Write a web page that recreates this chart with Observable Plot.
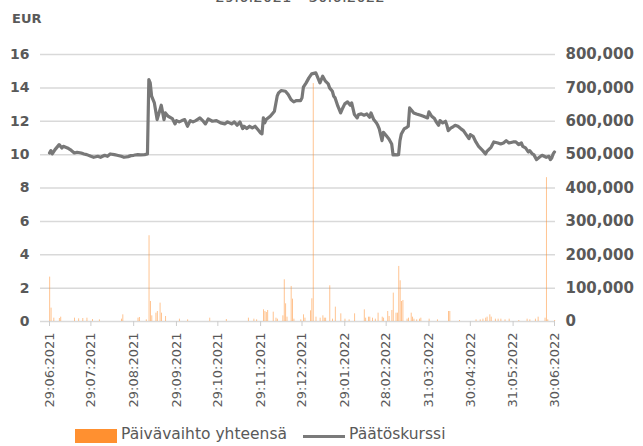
<!DOCTYPE html>
<html><head><meta charset="utf-8">
<script src="https://cdn.jsdelivr.net/npm/d3@7"></script>
<script src="https://cdn.jsdelivr.net/npm/@observablehq/plot@0.6"></script>
<style>
body{margin:0;background:#fff;}
#wrap{position:relative;width:643px;height:446px;overflow:hidden;font-family:"DejaVu Sans",sans-serif;color:#595959;}
#title{position:absolute;top:-12px;left:0;width:600px;text-align:center;font-size:15px;}
#unit{position:absolute;left:12px;top:11px;font-weight:bold;font-size:13px;}
#chart{position:absolute;left:0;top:0;}
.lg{position:absolute;font-size:15.5px;white-space:nowrap;}
</style>
</head><body>
<div id="wrap">
<div id="title">29.6.2021 – 30.6.2022</div>
<div id="unit">EUR</div>
<div id="chart"></div>
<div class="lg" style="left:75px;top:429px;width:42px;height:14px;background:#ff9030"></div>
<div class="lg" style="left:121px;top:425px;">Päivävaihto yhteensä</div>
<div class="lg" style="left:303px;top:435px;width:42px;height:3px;background:#7a7a7a"></div>
<div class="lg" style="left:349px;top:425px;">Päätöskurssi</div>
</div>
<script>
const priceDates = ["2021-06-29","2021-06-30","2021-07-01","2021-07-03","2021-07-06","2021-07-08","2021-07-09","2021-07-12","2021-07-14","2021-07-17","2021-07-19","2021-07-22","2021-07-24","2021-07-26","2021-07-29","2021-07-31","2021-08-03","2021-08-05","2021-08-08","2021-08-10","2021-08-12","2021-08-15","2021-08-17","2021-08-20","2021-08-22","2021-08-25","2021-08-27","2021-08-29","2021-09-01","2021-09-03","2021-09-06","2021-09-08","2021-09-09","2021-09-10","2021-09-11","2021-09-13","2021-09-15","2021-09-18","2021-09-20","2021-09-21","2021-09-23","2021-09-26","2021-09-28","2021-09-29","2021-10-01","2021-10-03","2021-10-05","2021-10-07","2021-10-09","2021-10-11","2021-10-13","2021-10-16","2021-10-18","2021-10-20","2021-10-22","2021-10-25","2021-10-28","2021-10-31","2021-11-03","2021-11-05","2021-11-08","2021-11-10","2021-11-12","2021-11-14","2021-11-16","2021-11-17","2021-11-19","2021-11-21","2021-11-23","2021-11-25","2021-11-27","2021-11-29","2021-11-30","2021-12-01","2021-12-02","2021-12-03","2021-12-06","2021-12-08","2021-12-09","2021-12-11","2021-12-12","2021-12-14","2021-12-17","2021-12-19","2021-12-21","2021-12-23","2021-12-25","2021-12-28","2021-12-29","2021-12-30","2022-01-01","2022-01-03","2022-01-05","2022-01-08","2022-01-09","2022-01-11","2022-01-13","2022-01-15","2022-01-17","2022-01-18","2022-01-20","2022-01-21","2022-01-22","2022-01-24","2022-01-26","2022-01-27","2022-01-29","2022-01-31","2022-02-02","2022-02-03","2022-02-05","2022-02-07","2022-02-08","2022-02-10","2022-02-12","2022-02-14","2022-02-16","2022-02-17","2022-02-19","2022-02-21","2022-02-22","2022-02-23","2022-02-25","2022-02-26","2022-02-28","2022-03-02","2022-03-04","2022-03-05","2022-03-06","2022-03-08","2022-03-09","2022-03-10","2022-03-11","2022-03-13","2022-03-15","2022-03-16","2022-03-17","2022-03-19","2022-03-20","2022-03-22","2022-03-25","2022-03-27","2022-03-30","2022-03-31","2022-04-02","2022-04-04","2022-04-05","2022-04-07","2022-04-08","2022-04-10","2022-04-12","2022-04-13","2022-04-14","2022-04-16","2022-04-17","2022-04-19","2022-04-21","2022-04-23","2022-04-25","2022-04-27","2022-04-29","2022-04-30","2022-05-02","2022-05-04","2022-05-06","2022-05-09","2022-05-11","2022-05-12","2022-05-15","2022-05-17","2022-05-20","2022-05-22","2022-05-24","2022-05-26","2022-05-28","2022-05-31","2022-06-02","2022-06-04","2022-06-06","2022-06-07","2022-06-09","2022-06-11","2022-06-12","2022-06-14","2022-06-15","2022-06-17","2022-06-19","2022-06-21","2022-06-24","2022-06-26","2022-06-27","2022-06-28","2022-06-29","2022-06-30"];
const priceValues = [10.1,10.24,10.04,10.3,10.6,10.4,10.5,10.4,10.3,10.1,10.14,10.1,10.04,10.0,9.9,9.84,9.9,9.84,9.96,9.9,10.04,10.0,9.96,9.9,9.84,9.88,9.94,9.96,10.0,9.98,10.0,10.04,14.5,14.3,13.5,13.1,12.1,12.96,12.1,12.5,12.3,12.16,11.84,12.04,11.96,12.04,12.1,11.7,12.04,11.96,12.04,12.2,12.04,11.84,12.14,12.0,12.04,11.9,11.84,11.96,11.84,11.96,11.76,11.96,11.56,11.7,11.56,11.7,11.6,11.7,11.5,11.3,11.24,12.2,11.9,12.1,12.3,12.5,12.6,13.5,13.7,13.84,13.8,13.6,13.3,13.16,13.24,13.24,13.4,14.04,14.3,14.6,14.84,14.9,14.7,14.3,14.7,14.4,14.24,14.0,13.8,13.5,13.4,12.9,12.5,12.7,13.04,13.16,12.96,13.1,12.4,12.2,12.4,12.44,12.36,12.44,12.24,12.5,12.1,11.9,11.74,11.54,10.84,11.34,11.14,10.94,10.64,9.98,10.0,9.98,10.0,10.84,11.24,11.54,11.64,11.7,12.8,12.6,12.5,12.44,12.36,12.3,12.2,12.56,12.3,12.16,12.0,11.76,12.04,11.9,12.0,11.76,11.44,11.6,11.64,11.76,11.7,11.56,11.44,11.2,10.96,11.2,11.1,10.76,10.5,10.24,10.04,10.2,10.44,10.76,10.7,10.64,10.7,10.84,10.7,10.76,10.76,10.6,10.7,10.5,10.4,10.16,10.24,10.04,10.0,9.7,9.84,9.96,9.84,9.9,9.7,9.8,10.04,10.16];

const volumeDates = ["2021-06-29","2021-06-30","2021-07-02","2021-07-06","2021-07-07","2021-07-17","2021-07-20","2021-07-23","2021-07-26","2021-07-30","2021-08-04","2021-08-20","2021-08-21","2021-09-01","2021-09-02","2021-09-07","2021-09-09","2021-09-10","2021-09-11","2021-09-14","2021-09-15","2021-09-17","2021-09-18","2021-09-21","2021-10-01","2021-10-07","2021-10-23","2021-11-04","2021-11-20","2021-11-24","2021-11-26","2021-12-01","2021-12-02","2021-12-03","2021-12-04","2021-12-08","2021-12-10","2021-12-11","2021-12-15","2021-12-16","2021-12-17","2021-12-18","2021-12-21","2021-12-22","2021-12-23","2021-12-28","2021-12-30","2021-12-31","2022-01-04","2022-01-05","2022-01-06","2022-01-08","2022-01-11","2022-01-13","2022-01-14","2022-01-15","2022-01-18","2022-01-20","2022-01-22","2022-01-26","2022-01-29","2022-02-01","2022-02-05","2022-02-12","2022-02-13","2022-02-15","2022-02-16","2022-02-18","2022-02-20","2022-02-22","2022-02-25","2022-02-26","2022-03-01","2022-03-02","2022-03-04","2022-03-05","2022-03-07","2022-03-08","2022-03-09","2022-03-10","2022-03-11","2022-03-12","2022-03-15","2022-03-16","2022-03-18","2022-03-19","2022-03-20","2022-03-22","2022-03-24","2022-03-25","2022-03-31","2022-04-06","2022-04-14","2022-04-15","2022-04-22","2022-05-04","2022-05-07","2022-05-09","2022-05-11","2022-05-12","2022-05-14","2022-05-15","2022-05-18","2022-05-20","2022-05-22","2022-05-25","2022-05-28","2022-06-04","2022-06-10","2022-06-12","2022-06-16","2022-06-18","2022-06-23","2022-06-24","2022-06-25","2022-06-30"];
const volumeValues = [133000,40000,10000,9000,13000,10000,8000,9000,10000,6000,5000,7000,20000,10000,12000,5000,257000,60000,17000,25000,30000,55000,25000,15000,7000,5000,10000,6000,10000,7000,5000,35000,30000,27000,33000,28000,10000,7000,17000,125000,53000,13000,105000,67000,7000,5000,20000,10000,32000,68000,713000,13000,10000,17000,10000,10000,107000,7000,43000,23000,7000,5000,23000,35000,10000,13000,13000,10000,7000,25000,13000,10000,30000,15000,33000,85000,25000,25000,165000,122000,60000,63000,7000,10000,25000,13000,7000,5000,7000,10000,7000,5000,30000,30000,3000,5000,5000,7000,10000,13000,20000,13000,7000,7000,7000,5000,7000,3000,7000,5000,7000,13000,10000,431000,5000,3000];

const tickDates = ["2021-06-29","2021-07-29","2021-08-29","2021-09-29","2021-10-29","2021-11-29","2021-12-29","2022-01-29","2022-02-28","2022-03-31","2022-04-30","2022-05-31","2022-06-30"];
const tickLabels = ["29:06:2021","29:07:2021","29:08:2021","29:09:2021","29:10:2021","29:11:2021","29:12:2021","29:01:2022","28:02:2022","31:03:2022","30:04:2022","31:05:2022","30:06:2022"];
const priceTicks = [0,2,4,6,8,10,12,14,16];
const volumePerEur = 50000;

const parse = d3.utcParse("%Y-%m-%d");
const price = priceDates.map((d,i)=>({date: parse(d), value: priceValues[i]}));
const volume = volumeDates.map((d,i)=>({date: parse(d), vol: volumeValues[i]}));
const ticks = tickDates.map(parse);
const labelOf = new Map(ticks.map((t,i)=>[+t, tickLabels[i]]));

const chart = Plot.plot({
  width: 643, height: 420,
  marginLeft: 40, marginRight: 88, marginTop: 54, marginBottom: 99,
  x: {type: "utc", domain: [ticks[0], ticks[ticks.length-1]], insetLeft: 9, insetRight: 1},
  y: {domain: [0, 16]},
  style: {fontFamily: "DejaVu Sans, sans-serif", fontSize: "13px", color: "#595959", background: "transparent"},
  marks: [
    Plot.gridY(priceTicks, {stroke: "#d9d9d9", strokeOpacity: 1, strokeWidth: 1.5}),
    Plot.rectY(volume, {x: "date", y: d => d.vol / volumePerEur, interval: d3.utcDay, fill: "#ff9030", fillOpacity: 0.6, insetLeft: 0.25, insetRight: 0.25}),
    Plot.line(price, {x: "date", y: "value", stroke: "#787878", strokeWidth: 3.2, strokeLinejoin: "round"}),
    Plot.axisY(priceTicks, {anchor: "left", tickSize: 0, tickPadding: 11, fontWeight: "bold", fontSize: 14, label: null}),
    Plot.axisY(priceTicks, {anchor: "right", tickSize: 0, tickPadding: 10, fontWeight: "bold", fontSize: 15, label: null, tickFormat: d => d3.format(",")(d * volumePerEur)}),
    Plot.axisX(ticks, {tickRotate: -90, tickSize: 5, tickPadding: 6, stroke: "#cccccc", fontSize: 13, label: null, tickFormat: d => labelOf.get(+d)})
  ]
});
document.getElementById("chart").appendChild(chart);
</script>
</body></html>
